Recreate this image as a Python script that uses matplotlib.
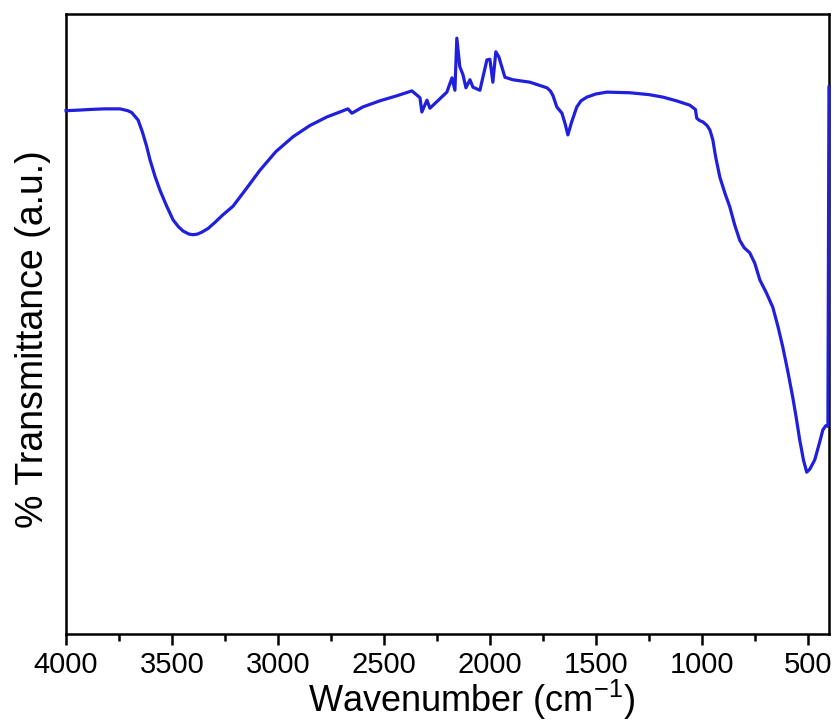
import matplotlib
matplotlib.use('Agg')
import matplotlib.pyplot as plt
from matplotlib.ticker import MultipleLocator

plt.rcParams['font.family'] = ['Liberation Sans', 'DejaVu Sans']
plt.rcParams['mathtext.fontset'] = 'custom'
plt.rcParams['mathtext.rm'] = 'Liberation Sans'
plt.rcParams['mathtext.default'] = 'regular'

# FTIR spectrum, values
wavenumber = [4000, 3940, 3887, 3820, 3745, 3708, 3690, 3660, 3640, 3620, 3604,
              3580, 3557, 3525, 3495, 3470, 3448, 3420, 3401, 3380, 3360, 3330,
              3300, 3260, 3212, 3150, 3085, 3010, 2929, 2850, 2769, 2700, 2670,
              2651, 2600, 2519, 2440, 2368, 2330, 2321, 2297, 2283, 2203, 2179,
              2165, 2156, 2142, 2127, 2113, 2094, 2080, 2047, 2033, 2014, 2000,
              1986, 1972, 1958, 1929, 1892, 1811, 1731, 1715, 1703, 1684, 1660,
              1645, 1632, 1615, 1600, 1590, 1570, 1542, 1500, 1448, 1340, 1250,
              1184, 1120, 1057, 1030, 1024, 1010, 995, 975, 962, 948, 935, 915,
              890, 868, 845, 821, 800, 774, 750, 726, 695, 665, 640, 618, 595,
              571, 555, 538, 520, 505, 490, 467, 445, 429, 415, 405, 400]
transmittance = [84.4, 84.5, 84.6, 84.7, 84.7, 84.4, 84.1, 82.9, 81.0, 78.7, 76.5,
                 73.8, 71.6, 69.0, 66.8, 65.7, 65.0, 64.5, 64.4, 64.5, 64.8, 65.4,
                 66.3, 67.6, 69.0, 71.8, 74.8, 77.8, 80.2, 82.0, 83.4, 84.3, 84.7,
                 84.0, 85.0, 86.0, 86.8, 87.6, 86.5, 84.2, 86.1, 84.8, 87.4, 89.7,
                 87.7, 96.1, 91.5, 90.2, 88.1, 89.4, 88.2, 87.7, 89.8, 92.6, 92.7,
                 89.0, 93.9, 93.1, 89.8, 89.4, 89.0, 88.1, 87.6, 86.9, 85.0, 84.0,
                 82.3, 80.5, 82.5, 84.0, 85.0, 86.0, 86.6, 87.1, 87.4, 87.3, 87.0,
                 86.6, 86.0, 85.3, 84.6, 83.2, 82.8, 82.6, 82.0, 81.3, 79.7, 77.0,
                 73.7, 71.0, 68.9, 66.0, 63.5, 62.3, 61.5, 59.8, 57.1, 55.0, 52.7,
                 49.5, 46.3, 42.5, 38.2, 35.0, 31.3, 28.0, 26.1, 26.6, 28.1, 30.8,
                 32.9, 33.6, 33.5, 88.2]

fig = plt.figure(figsize=(8.37, 7.22), dpi=100)
ax = fig.add_axes([0.0789, 0.1219, 0.9115, 0.8587])

ax.plot(wavenumber, transmittance, color='#1f1fdd', linewidth=2.3,
        clip_on=False, zorder=5, solid_joinstyle='round')

ax.set_xlim(4000, 400)
ax.set_ylim(0, 100)
ax.xaxis.set_major_locator(MultipleLocator(500))
ax.xaxis.set_minor_locator(MultipleLocator(250))
ax.set_yticks([])

ax.tick_params(axis='x', which='major', direction='out', length=8, width=1.8,
               labelsize=21, pad=4)
ax.tick_params(axis='x', which='minor', direction='out', length=5, width=1.8)
for s in ax.spines.values():
    s.set_linewidth(1.8)

ax.set_xlabel('Wavenumber (cm$^{-1}$)', fontsize=26)
ax.xaxis.set_label_coords(0.531, -0.071)
ax.set_ylabel('% Transmittance (a.u.)', fontsize=27)
ax.yaxis.set_label_coords(-0.02, 0.476)

plt.savefig('out.png', dpi=100)
